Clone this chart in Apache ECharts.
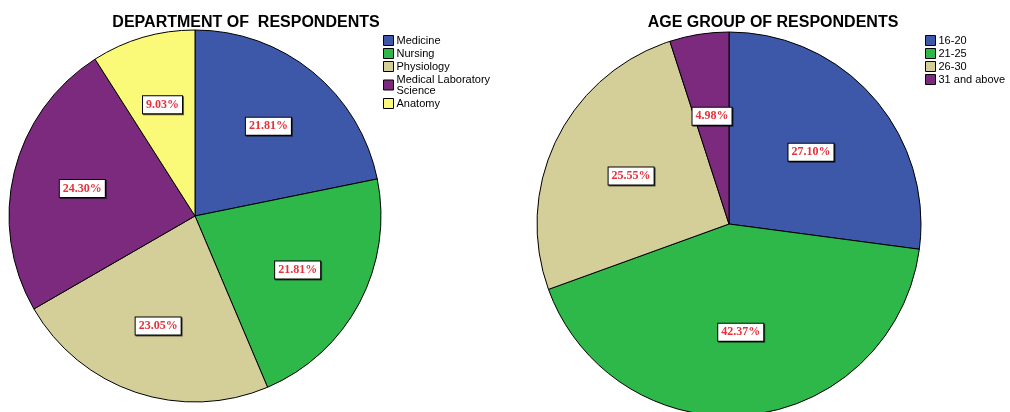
<!DOCTYPE html>
<html>
<head>
<meta charset="utf-8">
<script src="https://cdn.jsdelivr.net/npm/echarts@6/dist/echarts.min.js"></script>
<style>
  html, body { margin: 0; padding: 0; background: #fff; }
  #chart { width: 1010px; height: 412px; }
</style>
</head>
<body>
<div id="chart"></div>
<script>
const deptNames = ['Medicine', 'Nursing', 'Physiology', 'Medical Laboratory\nScience', 'Anatomy']
const deptValues = [21.81, 21.81, 23.05, 24.30, 9.03]
const ageNames = ['16-20', '21-25', '26-30', '31 and above']
const ageValues = [27.10, 42.37, 25.55, 4.98]
const deptColors = ['#3d58a8', '#2fb84a', '#d4cf99', '#7b2a7e', '#fafa78']
const ageColors = ['#3d58a8', '#2fb84a', '#d4cf99', '#7b2a7e']

const chart = echarts.init(document.getElementById('chart'), null, { renderer: 'canvas' })

const labelStyle = {
  show: true,
  position: 'inside',
  formatter: (p) => p.value.toFixed(2) + '%',
  fontFamily: 'Liberation Serif',
  fontWeight: 'bold',
  fontSize: 12,
  color: '#e8303a',
  backgroundColor: '#fff',
  borderColor: '#000',
  borderWidth: 1,
  padding: [3, 3, 2, 3],
  shadowColor: 'rgba(0,0,0,0.6)',
  shadowOffsetX: 1,
  shadowOffsetY: 1
}

const legendBase = {
  orient: 'vertical',
  itemWidth: 10,
  itemHeight: 10,
  itemGap: 2,
  icon: 'rect',
  itemStyle: { borderColor: '#000', borderWidth: 1 },
  textStyle: { fontFamily: 'Liberation Sans', fontSize: 11, color: '#000', padding: [0, 0, 0, -2], lineHeight: 11 },
  selectedMode: false
}

const toData = (names, values, colors) => names.map((n, i) => ({
  name: n, value: values[i], itemStyle: { color: colors[i] }
}))

// slices drawn by the first series of each pie, labels by a transparent ring on top
const pieBase = (center, r, data, inner) => [
  {
    type: 'pie', center, radius: [0, r], startAngle: 90, clockwise: true, silent: true,
    itemStyle: { borderColor: '#000', borderWidth: 1 },
    label: { show: false }, labelLine: { show: false }, data
  },
  {
    type: 'pie', center, radius: [inner, r], startAngle: 90, clockwise: true, silent: true,
    itemStyle: { color: 'transparent', borderWidth: 0 },
    label: labelStyle, labelLine: { show: false },
    data: data.map(d => ({ name: d.name, value: d.value }))
  }
]

chart.setOption({
  animation: false,
  title: [
    { text: 'DEPARTMENT OF  RESPONDENTS', left: 241, top: 10, textAlign: 'center',
      textStyle: { fontFamily: 'Liberation Sans', fontWeight: 'bold', fontSize: 16, color: '#000' } },
    { text: 'AGE GROUP OF RESPONDENTS', left: 768, top: 10, textAlign: 'center',
      textStyle: { fontFamily: 'Liberation Sans', fontWeight: 'bold', fontSize: 16, color: '#000' } }
  ],
  legend: [
    Object.assign({}, legendBase, { left: 378, top: 30, data: deptNames }),
    Object.assign({}, legendBase, { left: 920, top: 30, data: ageNames })
  ],
  series: [
    ...pieBase([195, 216], 186, toData(deptNames, deptValues, deptColors), 40),
    ...pieBase([729, 224], 192, toData(ageNames, ageValues, ageColors), 20)
  ]
})
</script>
</body>
</html>
